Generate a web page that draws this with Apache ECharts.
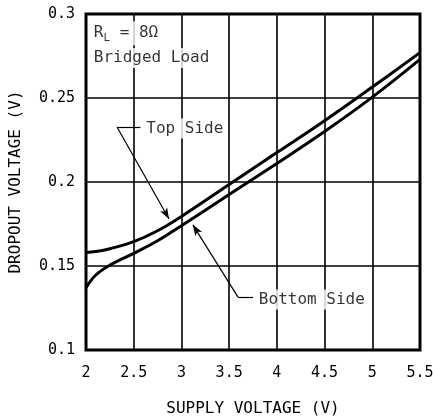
<!DOCTYPE html>
<html lang="en">
<head>
    <meta charset="UTF-8">
    <title>Dropout Voltage vs Supply Voltage</title>
    <style>
        html, body { margin: 0; padding: 0; background: #fff; }
        #main { width: 433px; height: 418px; }
    </style>
</head>
<body>
    <div id="main"></div>
    <script src="https://cdn.jsdelivr.net/npm/echarts@6/dist/echarts.min.js"></script>
    <script>
        // supply voltage (V)
        var supplyV = [2, 2.1, 2.25, 2.5, 2.75, 3, 3.5, 4, 4.5, 5, 5.5];
        // dropout voltage (V)
        var topSide = [0.158, 0.1586, 0.1603, 0.1645, 0.1710, 0.1795, 0.1985, 0.2175, 0.2365, 0.2565, 0.2770];
        var bottomSide = [0.137, 0.1445, 0.1505, 0.1575, 0.1650, 0.1740, 0.1925, 0.2110, 0.2300, 0.2505, 0.2730];

        var xTicks = { min: 2, max: 5.5, step: 0.5 };
        var yTicks = { min: 0.1, max: 0.3, step: 0.05 };

        // annotation leaders: [x, y] in data units
        var topLeader = [[2.57, 0.2327], [2.325, 0.2327], [2.87, 0.178]];
        var bottomLeader = [[3.75, 0.1315], [3.593, 0.1315], [3.12, 0.1745]];
        var notes = [
            { name: 'R{sub|L} = 8Ω', value: [2.05, 0.2885] },
            { name: 'Bridged Load', value: [2.05, 0.2738] },
            { name: 'Top Side', value: [2.6, 0.2318] },
            { name: 'Bottom Side', value: [3.78, 0.1300] }
        ];

        var font = 'DejaVu Sans Mono';
        var myChart = echarts.init(document.getElementById('main'));

        function pairs(xs, ys) {
            return xs.map(function (x, i) { return [x, ys[i]]; });
        }

        function leader(pts) {
            return [
                [{ coord: pts[0], symbol: 'none' }, { coord: pts[1], symbol: 'none' }],
                [{ coord: pts[1], symbol: 'none' }, { coord: pts[2], symbol: 'arrow', symbolSize: [6, 11] }]
            ];
        }

        myChart.setOption({
            animation: false,
            grid: {
                left: 86,
                right: 13,
                top: 14,
                bottom: 68,
                outerBoundsMode: 'none',
                show: true,
                borderColor: '#000',
                borderWidth: 3,
                z: 3
            },
            xAxis: {
                type: 'value',
                min: xTicks.min,
                max: xTicks.max,
                interval: xTicks.step,
                name: 'SUPPLY VOLTAGE (V)',
                nameLocation: 'middle',
                nameGap: 51,
                nameTextStyle: { fontFamily: font, fontSize: 16, color: '#000' },
                axisLine: { show: false },
                axisTick: { show: false },
                axisLabel: {
                    fontFamily: font, fontSize: 15, color: '#000', margin: 16,
                    formatter: function (v) { return String(v); }
                },
                splitLine: { lineStyle: { color: '#000', width: 1.6 } }
            },
            yAxis: {
                type: 'value',
                min: yTicks.min,
                max: yTicks.max,
                interval: yTicks.step,
                name: 'DROPOUT VOLTAGE (V)',
                nameLocation: 'middle',
                nameGap: 62,
                nameTextStyle: { fontFamily: font, fontSize: 16, color: '#000' },
                axisLine: { show: false },
                axisTick: { show: false },
                axisLabel: {
                    fontFamily: font, fontSize: 15, color: '#000', margin: 11,
                    formatter: function (v) { return String(+v.toFixed(2)); }
                },
                splitLine: { lineStyle: { color: '#000', width: 1.6 } }
            },
            series: [{
                name: 'Top Side',
                type: 'line',
                data: pairs(supplyV, topSide),
                smooth: 0.4,
                showSymbol: false,
                lineStyle: { color: '#000', width: 3 },
                z: 4
            }, {
                name: 'Bottom Side',
                type: 'line',
                data: pairs(supplyV, bottomSide),
                smooth: 0.4,
                showSymbol: false,
                lineStyle: { color: '#000', width: 3 },
                z: 4
            }, {
                type: 'line',
                data: [],
                markLine: {
                    silent: true,
                    animation: false,
                    label: { show: false },
                    lineStyle: { color: '#000', width: 1.2, type: 'solid' },
                    itemStyle: { color: '#000' },
                    data: leader(topLeader).concat(leader(bottomLeader))
                },
                z: 5
            }, {
                type: 'scatter',
                symbolSize: 0,
                data: notes,
                z: 6,
                label: {
                    show: true,
                    position: 'right',
                    distance: 0,
                    formatter: '{b}',
                    fontFamily: font,
                    fontSize: 16,
                    color: '#000',
                    backgroundColor: '#fff',
                    padding: [2, 3],
                    rich: {
                        sub: { fontFamily: font, fontSize: 11, color: '#000', padding: [9, 0, 0, 0] }
                    }
                }
            }]
        });
    </script>
</body>
</html>
